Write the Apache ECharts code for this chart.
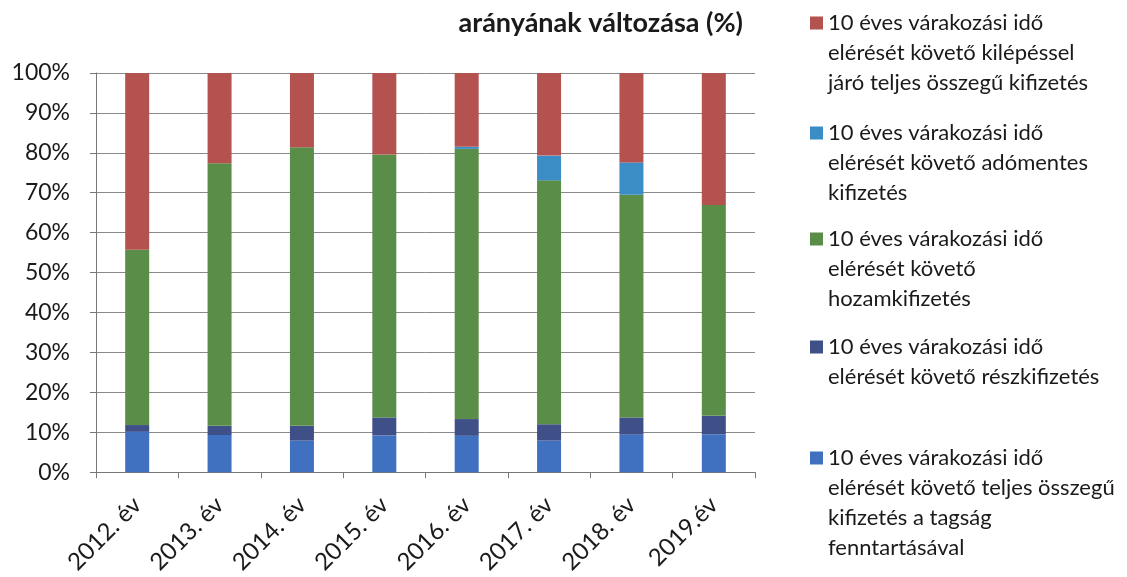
<!DOCTYPE html>
<html>
<head>
<meta charset="utf-8">
<script src="https://cdn.jsdelivr.net/npm/echarts@6/dist/echarts.min.js"></script>
<style>html,body{margin:0;padding:0;background:#fff;}#c{width:1127px;height:577px;}</style>
</head>
<body>
<div id="c"></div>
<script>
const categories = ['2012. év','2013. év','2014. év','2015. év','2016. év','2017. év','2018. év','2019.év'];
const yTicks = [0,10,20,30,40,50,60,70,80,90,100];
// series (bottom to top of stack), values in %
const tagsagFenntartas = [10.1, 9.3, 7.9, 9.2, 9.1, 7.9, 9.4, 9.5];
const reszkifizetes    = [1.7, 2.3, 3.7, 4.5, 4.2, 4.1, 4.3, 4.6];
const hozamkifizetes   = [43.9, 65.8, 69.8, 65.9, 67.7, 61.1, 55.8, 52.8];
const adomentes        = [0, 0, 0, 0, 0.5, 6.2, 8.1, 0];
const kilepessel       = [44.3, 22.6, 18.6, 20.4, 18.5, 20.7, 22.4, 33.1];

const nameLines = {
  kilep: ['10 éves várakozási idő','elérését követő kilépéssel','járó teljes összegű kifizetés'],
  adom:  ['10 éves várakozási idő','elérését követő adómentes','kifizetés'],
  hozam: ['10 éves várakozási idő','elérését követő','hozamkifizetés'],
  resz:  ['10 éves várakozási idő','elérését követő részkifizetés'],
  tagsag:['10 éves várakozási idő','elérését követő teljes összegű','kifizetés a tagság','fenntartásával']
};
const titleText = 'arányának változása (%)';

const FONT = 'Lato';
const LH = 30;
const nm = k => nameLines[k].join(' ');
// legend text: blank lines before the real lines so the icon sits beside the first line
const wrapped = {};
Object.keys(nameLines).forEach(k => {
  const n = nameLines[k].length;
  wrapped[nm(k)] = new Array(n - 1).fill('').concat(nameLines[k]).join('\n');
});

const colors = {
  kilep: '#b3524f',
  adom: '#3b8dc6',
  hozam: '#5a8d48',
  resz: '#3f4f88',
  tagsag: '#4070c0'
};

function legendFor(key, iconCenter) {
  const n = nameLines[key].length;
  return {
    data: [nm(key)],
    left: 810,
    top: iconCenter - (2 * n - 1) * LH / 2,
    padding: 0,
    orient: 'vertical',
    icon: 'rect',
    itemWidth: 13,
    itemHeight: 13,
    selectedMode: false,
    formatter: name => wrapped[name],
    textStyle: { fontFamily: FONT, fontSize: 22, color: '#1a1a1a', lineHeight: LH }
  };
}

function barSeries(key, data) {
  return {
    name: nm(key), type: 'bar', stack: 'total', data: data,
    barWidth: 24, itemStyle: { color: colors[key] }
  };
}

const chart = echarts.init(document.getElementById('c'), null, { renderer: 'canvas' });
chart.setOption({
  backgroundColor: '#ffffff',
  animation: false,
  title: {
    text: titleText, right: 379, top: 5,
    textStyle: { fontFamily: FONT, fontSize: 27, fontWeight: 'bold', color: '#1a1a1a' }
  },
  legend: [
    legendFor('kilep', 23),
    legendFor('adom', 133),
    legendFor('hozam', 239),
    legendFor('resz', 347),
    legendFor('tagsag', 458)
  ],
  grid: { left: 96, right: 372, top: 73, bottom: 103, containLabel: false },
  xAxis: {
    type: 'category', data: categories, boundaryGap: true,
    axisLine: { lineStyle: { color: '#777', width: 1 } },
    axisTick: { show: true, length: 6, alignWithLabel: false, lineStyle: { color: '#777' } },
    axisLabel: { rotate: 45, interval: 0, margin: 29, fontFamily: FONT, fontSize: 24, color: '#1a1a1a' }
  },
  yAxis: {
    type: 'value', min: yTicks[0], max: yTicks[yTicks.length - 1], interval: 10,
    axisLine: { show: true, lineStyle: { color: '#777', width: 1 } },
    axisTick: { show: true, length: 6, lineStyle: { color: '#777' } },
    axisLabel: { formatter: '{value}%', margin: 26, fontFamily: FONT, fontSize: 23, color: '#1a1a1a' },
    splitLine: { show: true, lineStyle: { color: '#8a8a8a', width: 1 } }
  },
  series: [
    barSeries('tagsag', tagsagFenntartas),
    barSeries('resz', reszkifizetes),
    barSeries('hozam', hozamkifizetes),
    barSeries('adom', adomentes),
    barSeries('kilep', kilepessel)
  ]
});
</script>
</body>
</html>
